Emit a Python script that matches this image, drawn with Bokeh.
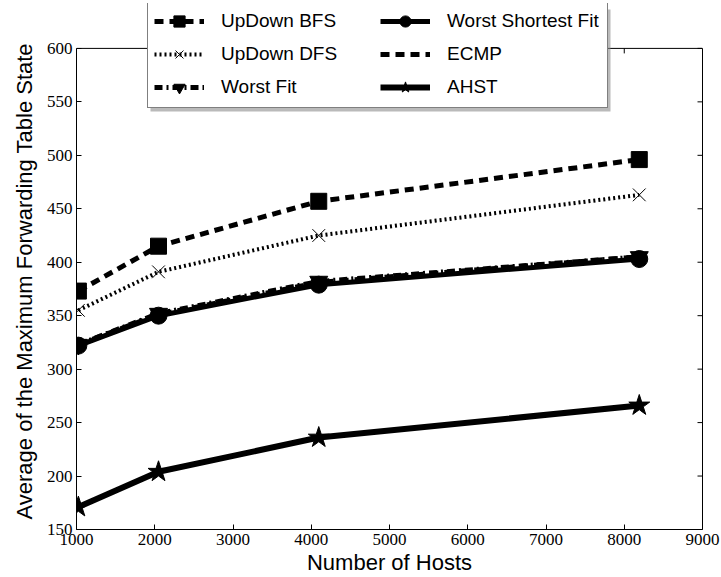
from bokeh.plotting import figure
from bokeh.models import (Range1d, LinearAxis, FixedTicker, Legend, LegendItem,
                          Span, BoxAnnotation, Title)
from bokeh.embed import file_html
from bokeh.resources import INLINE

# Number of hosts in each topology
hosts = [1024, 2048, 4096, 8192]

# Average of the maximum forwarding table state per routing scheme
updown_bfs = [373, 415, 457, 496]
updown_dfs = [355, 391, 425, 463]
worst_fit = [323, 352, 382, 405]
worst_shortest_fit = [322, 350, 379, 403]
ecmp = [323, 351, 381, 405]
ahst = [171, 204, 236, 266]

x_ticks = [1000, 2000, 3000, 4000, 5000, 6000, 7000, 8000, 9000]
y_ticks = [150, 200, 250, 300, 350, 400, 450, 500, 550, 600]

X_MIN, X_MAX = 1000, 9000
Y_MIN, Y_MAX = 150, 600
# extra headroom above the axes box so the legend can sit over its top edge
Y_TOP = 642

TICK_FONT = "Liberation Serif"
LABEL_FONT = "Liberation Sans"

p = figure(width=721, height=577, output_backend="svg", toolbar_location=None,
           x_range=Range1d(X_MIN, X_MAX), y_range=Range1d(Y_MIN, Y_TOP),
           x_axis_location=None, y_axis_location=None,
           min_border_left=76, min_border_right=19, min_border_top=3,
           min_border_bottom=47)
p.xgrid.visible = False
p.ygrid.visible = False
p.outline_line_color = None
p.background_fill_color = "white"
p.border_fill_color = "white"


def make_axis(ticks, bounds):
    ax = LinearAxis(ticker=FixedTicker(ticks=ticks), bounds=bounds)
    ax.major_tick_in = 5
    ax.major_tick_out = 0
    ax.minor_tick_line_color = None
    ax.axis_line_color = "black"
    ax.major_tick_line_color = "black"
    ax.major_label_text_font = TICK_FONT
    ax.major_label_text_font_size = "17px"
    ax.major_label_text_color = "black"
    ax.major_label_standoff = 4
    return ax


xaxis = make_axis(x_ticks, (X_MIN, X_MAX))
xaxis.axis_label = "Number of Hosts"
xaxis.axis_label_text_font = LABEL_FONT
xaxis.axis_label_text_font_size = "22px"
xaxis.axis_label_text_font_style = "normal"
xaxis.axis_label_text_color = "black"
xaxis.axis_label_standoff = 2
p.add_layout(xaxis, "below")

yaxis = make_axis(y_ticks, (Y_MIN, Y_MAX))
p.add_layout(yaxis, "left")

# value-axis label, centred on the 150..600 span rather than the whole frame
ylabel = Title(text="Average of the Maximum Forwarding Table State", align="left",
               offset=10, standoff=14, text_font=LABEL_FONT, text_font_size="22px",
               text_font_style="normal", text_color="black")
p.add_layout(ylabel, "left")

# right spine: an unlabelled axis with no ticks
raxis = LinearAxis(ticker=FixedTicker(ticks=[]), bounds=(Y_MIN, Y_MAX),
                   axis_line_color="black", major_tick_line_color=None,
                   minor_tick_line_color=None)
p.add_layout(raxis, "right")

# top spine at the upper limit of the value axis
p.add_layout(Span(location=Y_MAX, dimension="width", line_color="black", line_width=1))

# inward ticks on the top and right spines
tick_dy = 5 * (Y_TOP - Y_MIN) / 527.0
tick_dx = 5 * (X_MAX - X_MIN) / 626.0
p.segment(x0=x_ticks, y0=[Y_MAX] * len(x_ticks), x1=x_ticks,
          y1=[Y_MAX - tick_dy] * len(x_ticks), line_color="black", line_width=1)
p.segment(x0=[X_MAX] * len(y_ticks), y0=y_ticks, x1=[X_MAX - tick_dx] * len(y_ticks),
          y1=y_ticks, line_color="black", line_width=1)

items = []

# UpDown BFS: dashed line with squares
l1 = p.line(hosts, updown_bfs, line_color="black", line_width=5, line_dash="9 6")
m1 = p.scatter(hosts, updown_bfs, marker="square", size=16, fill_color="black", line_color="black")
items.append(LegendItem(label="UpDown BFS", renderers=[l1, m1]))

# UpDown DFS: dotted line with crosses
l2 = p.line(hosts, updown_dfs, line_color="black", line_width=4, line_dash="2 3")
m2 = p.scatter(hosts, updown_dfs, marker="x", size=18, line_color="black", line_width=1)
items.append(LegendItem(label="UpDown DFS", renderers=[l2, m2]))

# Worst Fit: dash-dot line with downward triangles
l3 = p.line(hosts, worst_fit, line_color="black", line_width=5, line_dash="8 4 2 4")
m3 = p.scatter(hosts, worst_fit, marker="inverted_triangle", size=18, fill_color="black", line_color="black")
items.append(LegendItem(label="Worst Fit", renderers=[l3, m3]))

# Worst Shortest Fit: solid line with circles
l4 = p.line(hosts, worst_shortest_fit, line_color="black", line_width=5)
m4 = p.scatter(hosts, worst_shortest_fit, marker="circle", size=17, fill_color="black", line_color="black")
items.append(LegendItem(label="Worst Shortest Fit", renderers=[l4, m4]))

# ECMP: dashed line, no markers
l5 = p.line(hosts, ecmp, line_color="black", line_width=5, line_dash="9 6")
items.append(LegendItem(label="ECMP", renderers=[l5]))

# AHST: solid line with stars
l6 = p.line(hosts, ahst, line_color="black", line_width=6)
m6 = p.scatter(hosts, ahst, marker="star", size=22, fill_color="black", line_color="black")
items.append(LegendItem(label="AHST", renderers=[l6, m6]))

# drop shadow behind the legend box
shadow = BoxAnnotation(left=150, right=610, top=9, bottom=111,
                       left_units="canvas", right_units="canvas",
                       top_units="canvas", bottom_units="canvas",
                       fill_color="#8c8c8c", fill_alpha=0.6, line_color=None)
p.add_layout(shadow)

legend = Legend(items=items, ncols=2, location=(71, 421),
                label_text_font=LABEL_FONT, label_text_font_size="19px",
                label_text_color="black", label_standoff=17, label_width=154,
                glyph_width=50, glyph_height=28, spacing=5, padding=6,
                margin=0, border_line_color="black", border_line_width=1,
                background_fill_color="white", background_fill_alpha=1.0)
p.add_layout(legend, "center")

open("out.html", "w").write(file_html(p, INLINE))
